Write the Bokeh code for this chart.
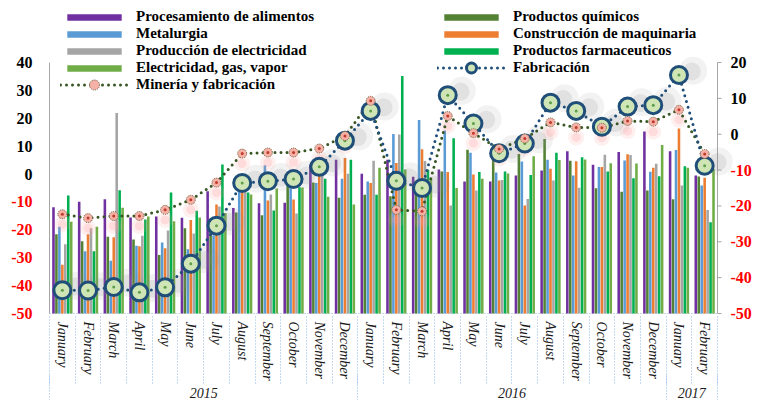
import numpy as np
from bokeh.plotting import figure
from bokeh.models import (ColumnDataSource, Range1d, LinearAxis, FixedTicker,
                          Legend, LegendItem)
from bokeh.transform import dodge
from bokeh.core.properties import value
from bokeh.embed import file_html
from bokeh.resources import INLINE

# ---------------- data ----------------
months = ["January", "February", "March", "April", "May", "June", "July", "August",
          "September", "October", "November", "December",
          "January", "February", "March", "April", "May", "June", "July", "August",
          "September", "October", "November", "December",
          "January", "February"]
years = ["2015"] * 12 + ["2016"] * 12 + ["2017"] * 2

procesamiento = [-11.9, -9.9, -9.0, -15.6, -15.2, -15.7, -6.2, -12.2, -10.5, -10.3, 3.4, 5.1, 0.1,
                 5.1, -1.0, 1.6, -2.7, -2.7, -0.5, 1.3, 8.2, 3.3, 7.9, 15.3, 8.2, -0.5]
quimicos = [-21.6, -24.1, -22.5, -23.5, -29.0, -19.4, -18.0, -13.8, -14.8, -1.0, -3.0, -8.5, -7.4,
            -8.0, -7.0, 0.9, 8.7, 6.0, 7.2, 12.6, 4.8, -5.1, -6.3, -5.9, -9.0, -0.9]
metalurgia = [-18.9, -27.7, -31.1, -25.7, -24.5, -27.0, -22.0, -4.0, 3.2, -4.7, -3.2, -1.7, -2.7,
              14.4, 19.4, 15.6, 7.6, 0.6, 4.5, 5.1, -0.5, 2.5, 4.9, 0.8, 8.6, -4.1]
construccion = [-32.5, -21.6, -22.7, -25.9, -26.6, -16.5, -10.9, -3.0, -9.5, -9.1, 2.0, 5.8, -3.2,
                4.0, 8.9, 0.7, -0.2, -2.3, -11.3, 1.9, 4.6, 2.5, 7.1, 2.3, 16.3, -1.3]
prod_electricidad = [-25.2, -19.4, 21.9, -22.1, -20.2, -21.3, -11.6, -5.0, -7.3, -14.1, 0.0, 0.1, 4.8,
                     14.2, 4.7, -11.3, -5.9, -2.1, -8.9, -2.3, -4.9, 6.9, 6.8, 3.7, -4.1, -12.9]
farmaceuticos = [-7.7, -27.7, -5.8, -16.3, -6.6, -13.2, 3.4, -6.6, -13.1, -4.7, -1.7, 5.1, -7.4,
                 35.2, 1.5, 12.8, 0.7, 0.9, -0.3, 7.6, 6.0, 0.9, -1.5, -0.8, 2.8, -17.3]
elec_gas_vapor = [-17.1, -18.9, -12.1, -15.2, -16.9, -15.6, -14.0, -7.3, -5.2, -4.8, -8.1, -10.9, 2.3,
                  1.6, -1.7, -5.0, -1.7, 0.2, 6.4, 5.0, 5.2, 3.9, 3.8, 10.4, 2.3, 1.8]
fabricacion = [-43.5, -43.6, -42.6, -44.1, -42.7, -36.1, -25.5, -13.6, -13.1, -12.5, -9.1, -1.8, 6.5,
               -13.0, -15.0, 10.9, 3.0, -5.3, -2.6, 8.8, 6.5, 2.1, 7.7, 8.1, 16.5, -8.8]
mineria = [-22.3, -23.4, -22.8, -22.8, -21.1, -18.3, -13.5, -5.4, -5.1, -5.1, -4.0, -0.5, 9.3,
           -21.1, -21.5, 5.1, 0.3, -4.1, -1.2, 3.3, 1.9, 1.8, 3.7, 3.5, 6.8, -5.5]

left_ticks = [40, 30, 20, 10, 0, -10, -20, -30, -40, -50]
right_ticks = [20, 10, 0, -10, -20, -30, -40, -50]

bar_series = [
    ("Procesamiento de alimentos", "procesamiento", procesamiento, "#7030A0"),
    ("Productos químicos", "quimicos", quimicos, "#548235"),
    ("Metalurgia", "metalurgia", metalurgia, "#5B9BD5"),
    ("Construcción de maquinaria", "construccion", construccion, "#ED7D31"),
    ("Producción de electricidad", "prod_electricidad", prod_electricidad, "#A5A5A5"),
    ("Productos farmaceuticos", "farmaceuticos", farmaceuticos, "#00B050"),
    ("Electricidad, gas, vapor", "elec_gas_vapor", elec_gas_vapor, "#70AD47"),
]

# ---------------- layout (pixels) ----------------
W, H = 762, 400
BELOW = 80                  # space for month / year axes
AREA_L, AREA_R = 49, 717    # plot-area edges in pixels
AREA_T, AREA_B = 62, 313    # pixels of top / bottom ticks
FRAME_H = H - BELOW         # frame spans pixel 0 .. FRAME_H

SERIF = "Liberation Serif"
n = len(months)
idx = list(range(n))
x_start, x_end = -0.5, n - 0.5
y_start, y_end = min(left_ticks), max(left_ticks)
yr_start, yr_end = min(right_ticks), max(right_ticks)

ppx = (AREA_R - AREA_L) / (x_end - x_start)
ppy = (AREA_B - AREA_T) / (y_end - y_start)
ppr = (AREA_B - AREA_T) / (yr_end - yr_start)
xr = Range1d(x_start - AREA_L / ppx, x_end + (W - AREA_R) / ppx)
yr = Range1d(y_start - (FRAME_H - AREA_B) / ppy, y_end + AREA_T / ppy)
rr = Range1d(yr_start - (FRAME_H - AREA_B) / ppr, yr_end + AREA_T / ppr)

data = dict(idx=idx, fab=fabricacion, min=mineria)
for _, key, vals, _ in bar_series:
    data[key] = vals
src = ColumnDataSource(data)

p = figure(width=W, height=H, x_range=xr, y_range=yr, output_backend="svg",
           toolbar_location=None, y_axis_location=None,
           min_border_left=0, min_border_right=0, min_border_top=0,
           min_border_bottom=BELOW)
p.extra_y_ranges = {"right": rr}
p.outline_line_color = None
p.grid.visible = False
p.background_fill_color = "white"
p.border_fill_color = "white"

axis_gray = "#A6A6A6"
sep_blue = "#8DB4E2"

# ---------------- axis lines (left / right / bottom) ----------------
p.segment(x0=[x_start], y0=[y_start], x1=[x_start], y1=[y_end], line_color=axis_gray, line_width=1)
p.segment(x0=[x_end], y0=[yr_start], x1=[x_end], y1=[yr_end], line_color=axis_gray,
          line_width=1, y_range_name="right")
p.ray(x=[x_end] * len(right_ticks), y=right_ticks, length=4, length_units="screen", angle=0,
      line_color=axis_gray, line_width=1, y_range_name="right")
p.segment(x0=[x_start], y0=[y_start], x1=[x_end], y1=[y_start], line_color=sep_blue,
          line_width=1, line_dash="1 2")

# ---------------- bars ----------------
bar_w = 0.1
step = 0.115
bar_renderers = {}
for i, (label, key, vals, color) in enumerate(bar_series):
    r = p.vbar(x=dodge("idx", (i - 3) * step), top=key, bottom=y_start, width=bar_w,
               fill_color=color, line_color=None, source=src)
    bar_renderers[label] = r

# ---------------- shadows / glows ----------------
p.scatter(x=dodge("idx", 0.55), y=dodge("fab", 1.2), size=28, fill_color="#8C8C8C",
          fill_alpha=0.11, line_color=None, source=src, y_range_name="right")
p.scatter(x=dodge("idx", 0.5), y=dodge("fab", 1.0), size=18, fill_color="#8C8C8C",
          fill_alpha=0.17, line_color=None, source=src, y_range_name="right")
p.scatter(x="idx", y=dodge("min", -2.8), size=16, fill_color="#FF9A9A",
          fill_alpha=0.15, line_color=None, source=src, y_range_name="right")
p.scatter(x="idx", y=dodge("min", -2.8), size=9, fill_color="#FF9A9A",
          fill_alpha=0.25, line_color=None, source=src, y_range_name="right")

# ---------------- lines ----------------
min_line = p.line(x="idx", y="min", line_color="#375623", line_width=3, line_dash="0 6",
                  line_cap="round", source=src, y_range_name="right")
fab_line = p.line(x="idx", y="fab", line_color="#1F4E79", line_width=3, line_dash="0 6",
                  line_cap="round", source=src, y_range_name="right")
fab_mark = p.scatter(x="idx", y="fab", size=17, fill_color="#CFE5B5", line_color="#1F4E79",
                     line_width=3, source=src, y_range_name="right")
fab_dot = p.scatter(x="idx", y="fab", size=3, fill_color="#5E9E4A", line_color=None,
                    source=src, y_range_name="right")
min_mark = p.scatter(x="idx", y="min", size=9, fill_color="#F5B1A6", line_color="#6B5B3A",
                     line_width=1, line_dash="1 1", source=src, y_range_name="right")
min_dot = p.scatter(x="idx", y="min", size=3, fill_color="#C0392B", line_color=None,
                    source=src, y_range_name="right")

# ---------------- tick labels (black / red) ----------------
lsrc = ColumnDataSource(dict(y=left_ticks, text=[str(t) for t in left_ticks],
                             color=["black" if t >= 0 else "#FF0000" for t in left_ticks]))
rsrc = ColumnDataSource(dict(y=right_ticks, text=[str(t) for t in right_ticks],
                             color=["black" if t >= 0 else "#FF0000" for t in right_ticks]))
p.text(x=x_start, y="y", text="text", source=lsrc, x_offset=-17,
       text_align="right", text_baseline="middle", text_color="color",
       text_font=value(SERIF), text_font_style=value("bold"), text_font_size=value("16px"))
p.text(x=x_end, y="y", text="text", source=rsrc, x_offset=13, y_range_name="right",
       text_align="left", text_baseline="middle", text_color="color",
       text_font=value(SERIF), text_font_style=value("bold"), text_font_size=value("16px"))

# ---------------- x axes ----------------
gap = FRAME_H - AREA_B  # pixels between the -50 line and the frame bottom

# panel 1: month labels
xa = p.xaxis[0]
xa.ticker = FixedTicker(ticks=idx)
xa.major_label_overrides = {i: m for i, m in zip(idx, months)}
xa.major_label_orientation = "vertical"
xa.major_label_text_font = SERIF
xa.major_label_text_font_style = "italic"
xa.major_label_text_font_size = "14px"
xa.major_label_text_color = "#1A1A1A"
xa.major_label_standoff = 1
xa.major_tick_line_color = None
xa.major_tick_out = 0
xa.major_tick_in = 0
xa.minor_tick_line_color = None
xa.axis_line_color = None

# panel 2: year labels + month separators drawn upward
year_names = sorted(set(years))
year_centers = [float(np.mean([i for i in idx if years[i] == y])) for y in year_names]
year_bounds = [float(min(i for i in idx if years[i] == y)) - 0.5 for y in year_names] + [x_end]
month_bounds = [i - 0.5 for i in range(n + 1)]

yax = LinearAxis(ticker=FixedTicker(ticks=year_centers, minor_ticks=month_bounds))
yax.major_label_overrides = {c: y for c, y in zip(year_centers, year_names)}
yax.major_label_text_font = SERIF
yax.major_label_text_font_style = "italic"
yax.major_label_text_font_size = "14px"
yax.major_label_text_color = "#1A1A1A"
yax.major_label_standoff = 4
yax.major_tick_line_color = None
yax.major_tick_out = 0
yax.major_tick_in = 0
yax.minor_tick_line_color = sep_blue
yax.minor_tick_line_dash = "1 2"
yax.minor_tick_in = 60 + gap
yax.minor_tick_out = 0
yax.axis_line_color = None
p.add_layout(yax, "below")

# panel 3: long year separators drawn upward
bax = LinearAxis(ticker=FixedTicker(ticks=year_bounds))
bax.major_label_overrides = {b: "" for b in year_bounds}
bax.major_label_standoff = 0
bax.major_tick_line_color = sep_blue
bax.major_tick_line_dash = "1 2"
bax.major_tick_in = 26
bax.major_tick_out = 0
bax.minor_tick_line_color = None
bax.axis_line_color = None
p.add_layout(bax, "below")

# ---------------- legends ----------------
def mk_legend(items, left_px, top_px, gh, lh):
    bottom_px = top_px + lh * len(items)
    lg = Legend(items=items, location=(left_px, FRAME_H - bottom_px), orientation="vertical",
                label_text_font=SERIF, label_text_font_style="bold",
                label_text_font_size="15px", label_text_color="black",
                glyph_width=68, glyph_height=gh, label_height=lh, label_standoff=8,
                spacing=0, padding=0, margin=0, border_line_color=None,
                background_fill_alpha=0)
    p.add_layout(lg)
    return lg


left_bar_items = [LegendItem(label=bar_series[i][0], renderers=[bar_renderers[bar_series[i][0]]])
                  for i in (0, 2, 4, 6)]
right_bar_items = [LegendItem(label=bar_series[i][0], renderers=[bar_renderers[bar_series[i][0]]])
                   for i in (1, 3, 5)]

mk_legend(left_bar_items, 60, 8.2, 8, 17)
mk_legend(right_bar_items, 437, 8.2, 8, 17)
mk_legend([LegendItem(label="Minería y fabricación", renderers=[min_line, min_mark])],
          60, 71.5, 25, 25)
mk_legend([LegendItem(label="Fabricación", renderers=[fab_line, fab_mark])],
          437, 54.5, 25, 25)

open("out.html", "w").write(file_html(p, INLINE))
